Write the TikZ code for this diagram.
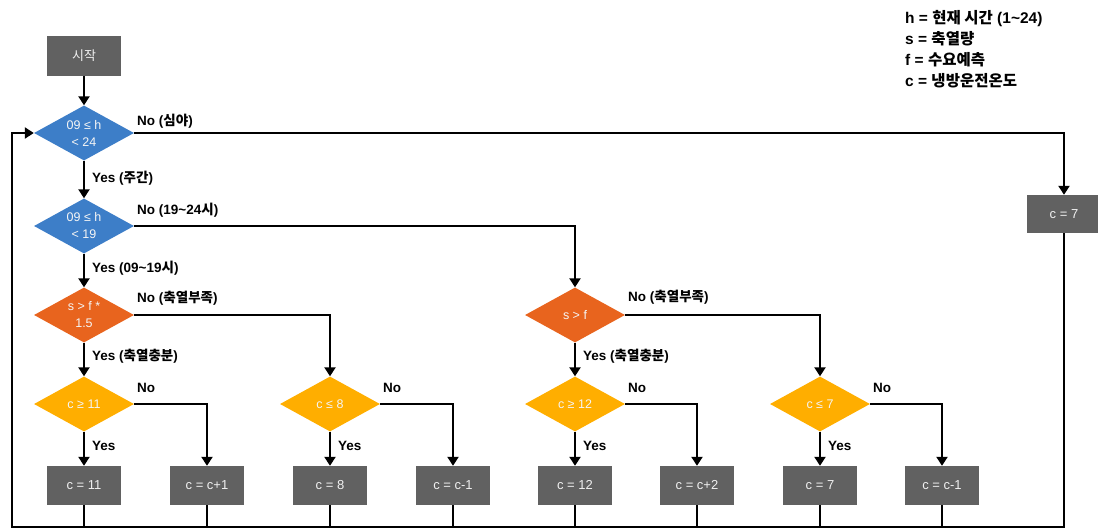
\documentclass[tikz,border=0pt]{standalone}
\usepackage{fontspec}
\setmainfont{Liberation Sans}
\newfontfamily\kr{Noto Sans CJK KR}
\usetikzlibrary{shapes.geometric,arrows.meta}
\definecolor{dblue}{HTML}{3D7EC8}
\definecolor{dorange}{HTML}{E8641E}
\definecolor{dyellow}{HTML}{FFAE00}
\definecolor{boxgrey}{HTML}{616161}
\begin{document}
\begin{tikzpicture}[x=1pt,y=-1pt,
  proc/.style={rectangle, fill=boxgrey, minimum width=74pt, minimum height=39pt, inner sep=0pt,
    text=white!88!gray, font=\fontsize{13}{15}\selectfont},
  dec/.style={diamond, aspect=1.85, minimum width=100pt, minimum height=55pt, inner sep=0pt,
    text=white!92!gray, align=center, font=\fontsize{12.5}{17}\selectfont},
  conn/.style={line width=2.6pt, -{Triangle[length=9pt,width=11pt]}},
  plain/.style={line width=2.6pt},
  lbl/.style={font=\bfseries\fontsize{13.5}{15}\selectfont, anchor=west, inner sep=0pt}]
\useasboundingbox (0,0) rectangle (1098,530);

% nodes
\node[proc, minimum height=40pt] (start) at (84,56) {\kr 시작};
\node[dec, fill=dblue] (d1) at (84,133) {09 ≤ h\\< 24};
\node[dec, fill=dblue] (d2) at (84,226) {09 ≤ h\\< 19};
\node[dec, fill=dorange] (d3) at (84,315) {s > f *\\1.5};
\node[dec, fill=dorange] (sf) at (575,315) {s > f};
\node[dec, fill=dyellow] (c11) at (84,404) {c ≥ 11};
\node[dec, fill=dyellow] (c8) at (330,404) {c ≤ 8};
\node[dec, fill=dyellow] (c12) at (575,404) {c ≥ 12};
\node[dec, fill=dyellow] (c7) at (820,404) {c ≤ 7};

\node[proc] (b1) at (84,485.5) {c = 11};
\node[proc] (b2) at (207,485.5) {c = c+1};
\node[proc] (b3) at (330,485.5) {c = 8};
\node[proc] (b4) at (453,485.5) {c = c-1};
\node[proc] (b5) at (575,485.5) {c = 12};
\node[proc] (b6) at (697,485.5) {c = c+2};
\node[proc] (b7) at (820,485.5) {c = 7};
\node[proc] (b8) at (942,485.5) {c = c-1};
\node[proc, minimum height=38pt] (r7) at (1064,214) {c = 7};

\node[font=\bfseries\fontsize{15.5}{21}\selectfont, align=left, anchor=north west, inner sep=0pt] (legend) at (905,10)
  {h = {\kr 현재 시간} (1\textasciitilde24)\\s = {\kr 축열량}\\f = {\kr 수요예측}\\c = {\kr 냉방운전온도}};

% connectors
\draw[conn] (start) -- (d1);
\draw[conn] (d1) -- (d2);
\draw[conn] (d2) -- (d3);
\draw[conn] (d3) -- (c11);
\draw[conn] (sf) -- (c12);
\draw[conn] (c11) -- (b1);
\draw[conn] (c8) -- (b3);
\draw[conn] (c12) -- (b5);
\draw[conn] (c7) -- (b7);
\draw[conn] (d1.east) -| (r7.north);
\draw[conn] (d2.east) -| (sf.north);
\draw[conn] (d3.east) -| (c8.north);
\draw[conn] (sf.east) -| (c7.north);
\draw[conn] (c11.east) -| (b2.north);
\draw[conn] (c8.east) -| (b4.north);
\draw[conn] (c12.east) -| (b6.north);
\draw[conn] (c7.east) -| (b8.north);

\coordinate (bl) at (12,527);
\foreach \b in {b1,b2,b3,b4,b5,b6,b7,b8}
  \draw[plain] (\b.south) -- (\b.south |- bl);
\draw[conn] (r7.south) |- (bl) |- (d1.west);

% labels
\node[lbl] at (137,121) {No ({\kr 심야})};
\node[lbl] at (92,178) {Yes ({\kr 주간})};
\node[lbl] at (137,210) {No (19\textasciitilde24{\kr 시})};
\node[lbl] at (92,268) {Yes (09\textasciitilde19{\kr 시})};
\node[lbl] at (137,298) {No ({\kr 축열부족})};
\node[lbl] at (92,356) {Yes ({\kr 축열충분})};
\node[lbl] at (137,388) {No};
\node[lbl] at (92,446) {Yes};
\node[lbl] at (383,388) {No};
\node[lbl] at (338,446) {Yes};
\node[lbl] at (628,297) {No ({\kr 축열부족})};
\node[lbl] at (583,356) {Yes ({\kr 축열충분})};
\node[lbl] at (628,388) {No};
\node[lbl] at (583,446) {Yes};
\node[lbl] at (873,388) {No};
\node[lbl] at (828,446) {Yes};
\end{tikzpicture}
\end{document}
